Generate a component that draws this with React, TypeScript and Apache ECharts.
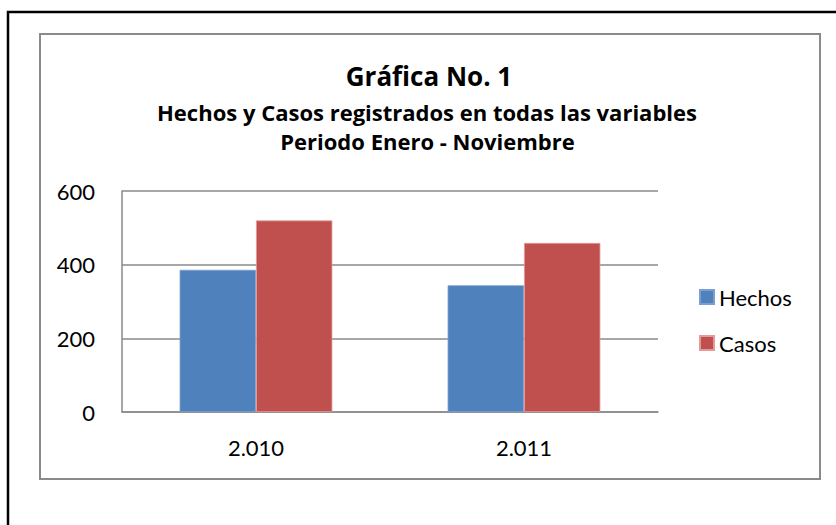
import React, { useEffect, useRef } from "react";
import * as echarts from "echarts";

const categories = ["2.010", "2.011"];
const hechos = [386, 344];
const casos = [520, 459];
const seriesNames = ["Hechos", "Casos"];
const titleLines = [
  "Gráfica No. 1",
  "Hechos y Casos registrados en todas las variables",
  "Periodo Enero - Noviembre",
];

const FONT = "Lato, 'Open Sans', sans-serif";
const TFONT = "'Open Sans', Lato, sans-serif";

export default function App() {
  const ref = useRef<HTMLDivElement>(null);
  useEffect(() => {
    if (!ref.current) return;
    const chart = echarts.init(ref.current, undefined, { renderer: "svg" });
    chart.setOption({
      animation: false,
      backgroundColor: "#ffffff",
      textStyle: { fontFamily: FONT },
      graphic: [
        {
          type: "rect",
          shape: { x: 8, y: 12, width: 900, height: 600 },
          style: { fill: "none", stroke: "#000000", lineWidth: 2.5 },
          silent: true,
        },
        {
          type: "rect",
          shape: { x: 40, y: 34, width: 780, height: 445 },
          style: { fill: "none", stroke: "#8a8a8a", lineWidth: 2 },
          silent: true,
        },
        {
          type: "text",
          x: 429,
          y: 75.5,
          style: {
            text: titleLines[0],
            font: `bold 26px ${TFONT}`,
            fill: "#000",
            align: "center",
            verticalAlign: "middle",
          },
        },
        {
          type: "text",
          x: 427,
          y: 111.7,
          style: {
            text: titleLines[1],
            font: `bold 22px ${TFONT}`,
            fill: "#000",
            align: "center",
            verticalAlign: "middle",
          },
        },
        {
          type: "text",
          x: 427.5,
          y: 140.8,
          style: {
            text: titleLines[2],
            font: `bold 22px ${TFONT}`,
            fill: "#000",
            align: "center",
            verticalAlign: "middle",
          },
        },
      ],
      legend: {
        orient: "vertical",
        left: 694,
        top: 281,
        itemWidth: 14,
        itemHeight: 14,
        itemGap: 24,
        icon: "rect",
        textStyle: { fontSize: 22, color: "#000", fontFamily: FONT },
        data: seriesNames,
      },
      grid: { left: 122, right: 178, top: 191, bottom: 113 },
      xAxis: {
        type: "category",
        data: categories,
        axisLine: { lineStyle: { color: "#8a8a8a", width: 1.5 } },
        axisTick: { show: false },
        axisLabel: { fontSize: 22, color: "#000", margin: 24, fontFamily: FONT },
      },
      yAxis: {
        type: "value",
        min: 0,
        max: 600,
        interval: 200,
        axisLine: { show: true, lineStyle: { color: "#8a8a8a", width: 1.5 } },
        axisTick: { show: false },
        splitLine: { lineStyle: { color: "#8a8a8a", width: 1.5 } },
        axisLabel: { fontSize: 22, color: "#000", margin: 27, fontFamily: FONT },
      },
      series: [
        {
          name: seriesNames[0],
          type: "bar",
          data: hechos,
          barGap: "0%",
          barCategoryGap: "43%",
          itemStyle: { color: "#4F81BD", borderColor: "#7a9fd0", borderWidth: 0.8 },
        },
        {
          name: seriesNames[1],
          type: "bar",
          data: casos,
          barGap: "0%",
          barCategoryGap: "43%",
          itemStyle: { color: "#C0504D", borderColor: "#e39a98", borderWidth: 0.8 },
        },
      ],
    });
    return () => chart.dispose();
  }, []);
  return (
    <div
      ref={ref}
      style={{ position: "absolute", left: 0, top: 0, width: 836, height: 525 }}
    />
  );
}
